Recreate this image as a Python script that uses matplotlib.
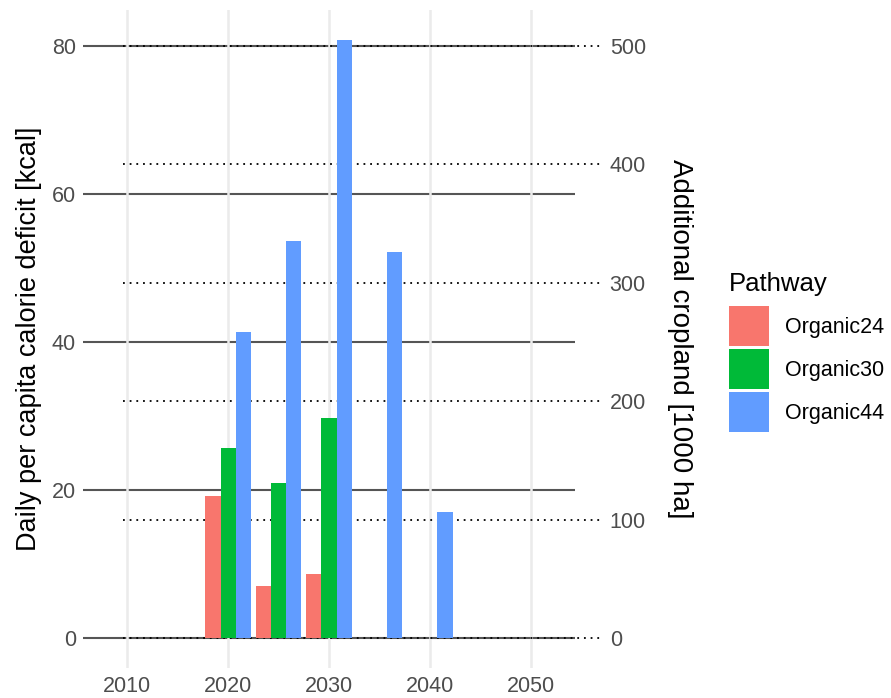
import matplotlib
matplotlib.use("Agg")
import matplotlib.pyplot as plt
from matplotlib.patches import Patch
import numpy as np

plt.rcParams['font.family'] = ['Liberation Sans', 'DejaVu Sans']

years = [2020, 2025, 2030, 2035, 2040]
pathways = ["Organic24", "Organic30", "Organic44"]
organic24 = [19.15, 7.1, 8.7, 0, 0]
organic30 = [25.7, 20.9, 29.8, 0, 0]
organic44 = [41.4, 53.7, 80.8, 52.2, 17.1]
colors = ["#F8766D", "#00BA38", "#619CFF"]
left_ticks = [0, 20, 40, 60, 80]
right_ticks = [0, 100, 200, 300, 400, 500]
x_ticks = [2010, 2020, 2030, 2040, 2050]
scale = 6.25  # right axis = left axis * scale

W, H = 891, 698
fig = plt.figure(figsize=(W / 100, H / 100), dpi=100)
ax = fig.add_axes([83 / W, (H - 668) / H, (575 - 83) / W, (668 - 10) / H])
ax.set_xlim(2005.6, 2054.4)
ax.set_ylim(-4.04, 84.85)

# solid horizontal lines (left axis)
for t in left_ticks:
    ax.axhline(t, color="#555555", lw=1.5, zorder=1)
# vertical grid lines
for xt in x_ticks:
    ax.axvline(xt, color="#EBEBEB", lw=1.8, zorder=1.5)
# dotted lines (right axis)
for t in right_ticks:
    ax.plot([2009.6, 2057.3], [t / scale, t / scale], color="black",
            lw=1.3, linestyle=(0, (1, 2.7)), clip_on=False, zorder=2)

series = [organic24, organic30, organic44]
bw = 1.5
offsets = [-1.5, 0, 1.5]
for vals, c, off, name in zip(series, colors, offsets, pathways):
    ax.bar(np.array(years) + off, vals, width=bw, color=c, zorder=3,
           linewidth=0, label=name)

for s in ax.spines.values():
    s.set_visible(False)
ax.set_xticks(x_ticks)
ax.set_xticklabels([str(x) for x in x_ticks])
ax.set_yticks(left_ticks)
ax.tick_params(axis="both", length=0, labelsize=15.5, colors="#4D4D4D")
ax.tick_params(axis="x", pad=5.5)
ax.tick_params(axis="y", pad=5)
ax.set_ylabel("Daily per capita calorie deficit [kcal]", fontsize=19.5,
              color="black")
ax.yaxis.set_label_coords((42 - 83) / (575 - 83), 0.5)

ax2 = ax.twinx()
ax2.set_ylim(-4.04 * scale, 84.85 * scale)
ax2.set_yticks(right_ticks)
for s in ax2.spines.values():
    s.set_visible(False)
ax2.tick_params(axis="y", length=0, labelsize=15.5, colors="#4D4D4D", pad=25)
ax2.set_ylabel("Additional cropland [1000 ha]", fontsize=20, rotation=-90,
               color="black", va="center")
ax2.yaxis.set_label_coords((680 - 83) / (575 - 83), 0.5)

handles = [Patch(facecolor=c, edgecolor="none", label=n) for c, n in zip(colors, pathways)]
leg = fig.legend(handles=handles, title="Pathway", loc="upper left",
                 bbox_to_anchor=(712 / W, 1 - 255 / H), frameon=False,
                 fontsize=15.5, title_fontsize=18.5, handlelength=1.86,
                 handleheight=2.48, labelspacing=0.14, handletextpad=0.75,
                 borderpad=0.3)
leg._legend_box.align = "left"
leg._legend_box.sep = 7.2

fig.savefig("out.png", dpi=100)
